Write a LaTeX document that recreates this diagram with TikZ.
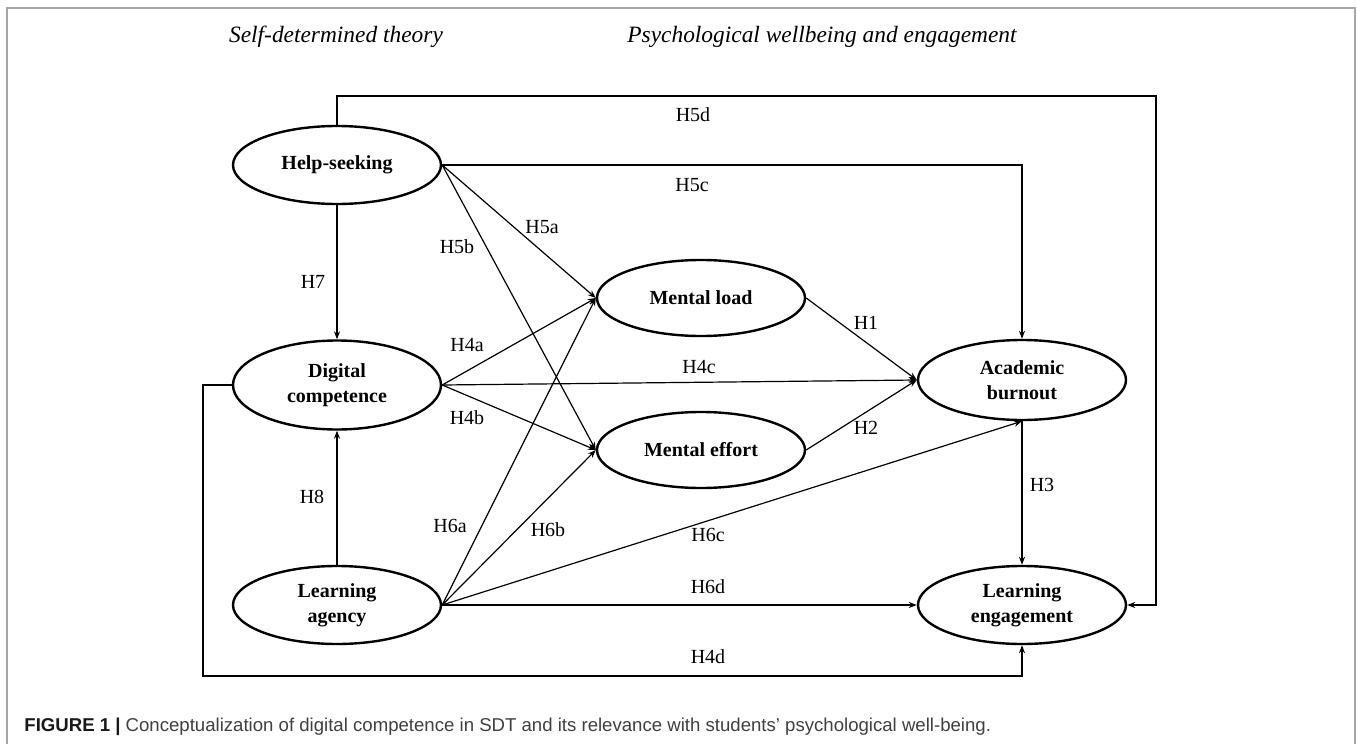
\documentclass[tikz,border=0pt]{standalone}
\usepackage{fontspec}
\setmainfont{Liberation Serif}
\newfontfamily\capfont{Liberation Sans}
\usetikzlibrary{shapes.geometric,arrows.meta}

\begin{document}
\begin{tikzpicture}[x=0.5pt,y=-0.5pt,
  construct/.style={ellipse, draw, line width=1.2pt, minimum width=104pt,
    minimum height=39pt, inner sep=0pt, align=center,
    font=\fontsize{10}{12.5}\selectfont\bfseries},
  hyp/.style={font=\fontsize{10}{12}\selectfont},
  heading/.style={font=\fontsize{11.7}{14}\selectfont\itshape},
  link/.style={line width=0.6pt, -{Stealth[length=4pt,width=3pt]}}]
  \useasboundingbox (0,0) rectangle (1357,744);

  % frame round the figure
  \draw[gray!70, line width=0.8pt] (7,744) -- (7,8) -- (1355,8) -- (1355,744);

  % headings
  \node[heading] (tSDT) at (336,37) {Self-determined theory};
  \node[heading] (tPWE) at (822,37) {Psychological wellbeing and engagement};

  % constructs
  \node[construct] (HS) at (337,165) {Help-seeking};
  \node[construct, minimum height=44.5pt] (DC) at (337,385) {Digital\\competence};
  \node[construct] (LA) at (337,605) {Learning\\agency};
  \node[construct, minimum height=38pt] (ML) at (701,298) {Mental load};
  \node[construct, minimum height=38pt] (ME) at (701,450) {Mental effort};
  \node[construct, minimum height=40pt] (AB) at (1022,380) {Academic\\burnout};
  \node[construct] (LE) at (1022,605) {Learning\\engagement};

  % bends of the long paths
  \coordinate (b5d) at (1156,96);
  \coordinate (b4d) at (203,676);

  % paths
  \draw[link] (HS.north) |- (b5d) |- (LE.east);
  \draw[link] (HS.east) -| (AB.north);
  \draw[link] (HS.east) -- (ML.west);
  \draw[link] (HS.east) -- (ME.west);
  \draw[link] (HS) -- (DC);
  \draw[link] (DC.east) -- (ML.west);
  \draw[link] (DC.east) -- (AB.west);
  \draw[link] (DC.east) -- (ME.west);
  \draw[link] (LA) -- (DC);
  \draw[link] (LA.east) -- (ML.west);
  \draw[link] (LA.east) -- (ME.west);
  \draw[link] (LA.east) -- (AB.south);
  \draw[link] (LA.east) -- (LE.west);
  \draw[link] (ML.east) -- (AB.west);
  \draw[link] (ME.east) -- (AB.west);
  \draw[link] (AB) -- (LE);
  \draw[link] (DC.west) -| (b4d) -| (LE.south);

  % hypothesis labels
  \node[hyp] (lH5d) at (693,115) {H5d};
  \node[hyp] (lH5c) at (692,185) {H5c};
  \node[hyp] (lH5a) at (542,227) {H5a};
  \node[hyp] (lH5b) at (457,247) {H5b};
  \node[hyp] (lH7) at (313,282) {H7};
  \node[hyp] (lH4a) at (467,345) {H4a};
  \node[hyp] (lH4c) at (699,367) {H4c};
  \node[hyp] (lH4b) at (467,418) {H4b};
  \node[hyp] (lH1) at (866,323) {H1};
  \node[hyp] (lH2) at (866,428) {H2};
  \node[hyp] (lH3) at (1042,485) {H3};
  \node[hyp] (lH8) at (312,497) {H8};
  \node[hyp] (lH6a) at (450,526) {H6a};
  \node[hyp] (lH6b) at (548,530) {H6b};
  \node[hyp] (lH6c) at (708,535) {H6c};
  \node[hyp] (lH6d) at (708,587) {H6d};
  \node[hyp] (lH4d) at (708,657) {H4d};

  % caption
  \node[anchor=west, inner sep=0pt, text=black!75,
    font=\capfont\fontsize{9.3}{11}\selectfont] (cap) at (24,727)
    {{\bfseries\color{black!90}FIGURE 1 |} Conceptualization of digital competence in SDT and its relevance with students’ psychological well-being.};
\end{tikzpicture}
\end{document}
